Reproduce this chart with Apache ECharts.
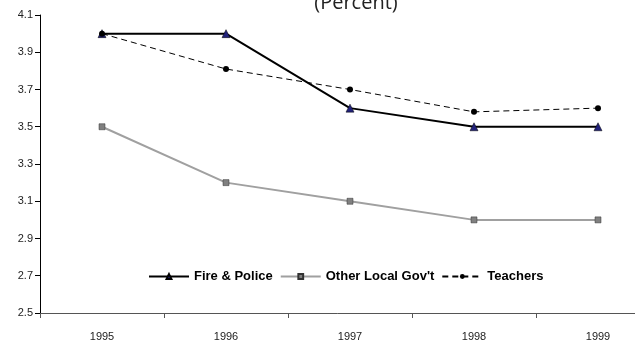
<!DOCTYPE html>
<html>
<head>
<meta charset="utf-8">
<script src="https://cdn.jsdelivr.net/npm/echarts@6/dist/echarts.min.js"></script>
<style>
  html, body { margin: 0; padding: 0; background: #fff; overflow: hidden; }
  #chart { width: 635px; height: 343px; }
</style>
</head>
<body>
<div id="chart"></div>
<script>
// Annual rates by employee group, 1995-1999 (percent)
const years = ['1995', '1996', '1997', '1998', '1999'];
const firePolice = [4.0, 4.0, 3.6, 3.5, 3.5];
const otherLocalGovt = [3.5, 3.2, 3.1, 3.0, 3.0];
const teachers = [4.0, 3.81, 3.7, 3.58, 3.6];
const yTicks = [2.5, 2.7, 2.9, 3.1, 3.3, 3.5, 3.7, 3.9, 4.1];

const chart = echarts.init(document.getElementById('chart'));
chart.setOption({
  animation: false,
  backgroundColor: '#fff',
  title: {
    text: '(Percent)',
    left: 356,
    textAlign: 'center',
    top: -7,
    padding: 0,
    textStyle: { fontFamily: 'Open Sans', fontSize: 20, fontWeight: 'normal', color: '#222' }
  },
  legend: {
    top: 270,
    left: 148,
    padding: 0,
    itemGap: 7,
    itemWidth: 40,
    itemHeight: 6,
    textStyle: { fontFamily: 'Liberation Sans, Arial', fontSize: 13, fontWeight: 'bold', color: '#000' },
    data: ['Fire & Police', "Other Local Gov't", 'Teachers']
  },
  // plot area runs past the right edge of the page
  grid: { left: 40, width: 620, top: 15, height: 298, containLabel: false, outerBoundsMode: 'none' },
  xAxis: {
    type: 'category',
    data: years,
    boundaryGap: true,
    axisLine: { lineStyle: { color: '#555', width: 1 } },
    axisTick: { show: true, length: 5, lineStyle: { color: '#555' } },
    axisLabel: { fontFamily: 'Liberation Sans, Arial', fontSize: 11, color: '#222', margin: 18 }
  },
  yAxis: {
    type: 'value',
    min: yTicks[0],
    max: yTicks[yTicks.length - 1],
    interval: 0.2,
    axisLine: { show: true, lineStyle: { color: '#000', width: 1 } },
    axisTick: { show: true, length: 5, lineStyle: { color: '#000' } },
    splitLine: { show: false },
    axisLabel: {
      fontFamily: 'Liberation Sans, Arial', fontSize: 11, color: '#222', margin: 7,
      formatter: v => v.toFixed(1)
    }
  },
  series: [
    {
      name: 'Fire & Police',
      type: 'line',
      data: firePolice,
      symbol: 'triangle',
      symbolSize: 8,
      lineStyle: { color: '#000', width: 2 },
      itemStyle: { color: '#22227a', borderColor: '#000', borderWidth: 0.5 },
      z: 3
    },
    {
      name: "Other Local Gov't",
      type: 'line',
      data: otherLocalGovt,
      symbol: 'rect',
      symbolSize: 6,
      lineStyle: { color: '#a0a0a0', width: 2 },
      itemStyle: { color: '#808080', borderColor: '#333', borderWidth: 0.5 },
      z: 2
    },
    {
      name: 'Teachers',
      type: 'line',
      data: teachers,
      symbol: 'circle',
      symbolSize: 6,
      lineStyle: { color: '#000', width: 1, type: [6, 4] },
      itemStyle: { color: '#000' },
      z: 4
    }
  ]
});
</script>
</body>
</html>
